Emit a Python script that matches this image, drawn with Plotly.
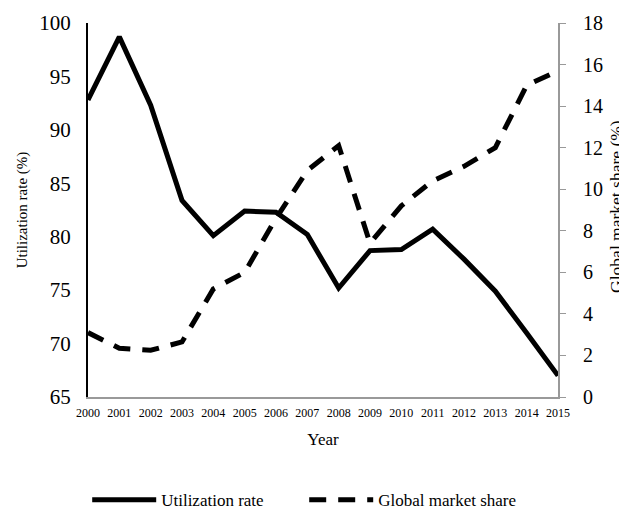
"""Utilization rate vs global market share, 2000-2015."""
import plotly.graph_objects as go

years = [str(y) for y in range(2000, 2016)]
utilization_rate = [92.8, 98.7, 92.3, 83.4, 80.1, 82.4, 82.3, 80.2,
                    75.2, 78.7, 78.8, 80.7, 77.9, 74.9, 71.0, 67.0]
market_share = [3.1, 2.35, 2.25, 2.65, 5.2, 6.0, 8.6, 10.9,
                12.1, 7.4, 9.2, 10.4, 11.1, 12.0, 15.0, 15.7]

FONT = 'Liberation Serif, Times New Roman, serif'

fig = go.Figure()
fig.add_trace(go.Scatter(x=years, y=utilization_rate, name='Utilization rate',
                         mode='lines', line=dict(color='black', width=5)))
fig.add_trace(go.Scatter(x=years, y=market_share, name='Global market share',
                         mode='lines', yaxis='y2',
                         line=dict(color='black', width=5, dash='17px,12px')))

# page body has an 8px margin, so the figure is sized 8px smaller
fig.update_layout(
    width=619, height=503,
    margin=dict(l=80, r=69, t=15, b=114, autoexpand=False),
    paper_bgcolor='white', plot_bgcolor='white',
    font=dict(family=FONT, color='black'),
    xaxis=dict(title=dict(text='Year', font=dict(size=17), standoff=14),
               tickfont=dict(size=12), showgrid=False, range=[0, 15],
               showline=True, linecolor='#999999', linewidth=2, ticks='',
               ticklabelstandoff=4),
    yaxis=dict(title=dict(text='Utilization rate (%)', font=dict(size=15),
                          standoff=8),
               range=[65, 100], dtick=5, tickfont=dict(size=21),
               showgrid=False, zeroline=False, ticklabelstandoff=11,
               showline=True, linecolor='black', linewidth=2, ticks=''),
    yaxis2=dict(overlaying='y', side='right', range=[0, 18], dtick=2,
                tickfont=dict(size=20), showgrid=False, zeroline=False,
                showline=True, linecolor='#999999', linewidth=2,
                ticks='outside', ticklen=6, tickcolor='#999999',
                ticklabelstandoff=13),
    legend=dict(orientation='h', x=0.46, xanchor='center', y=-0.228,
                yanchor='top', font=dict(size=17), itemwidth=64,
                entrywidth=138),
)

# right axis title placed by hand so it stays inside the page
fig.add_annotation(text='Global market share (%)', textangle=-90,
                   xref='paper', yref='paper', x=1.1468, y=0.511,
                   xanchor='right', yanchor='middle', borderpad=0,
                   showarrow=False, font=dict(size=17.5, family=FONT))

fig.write_html("out.html")
